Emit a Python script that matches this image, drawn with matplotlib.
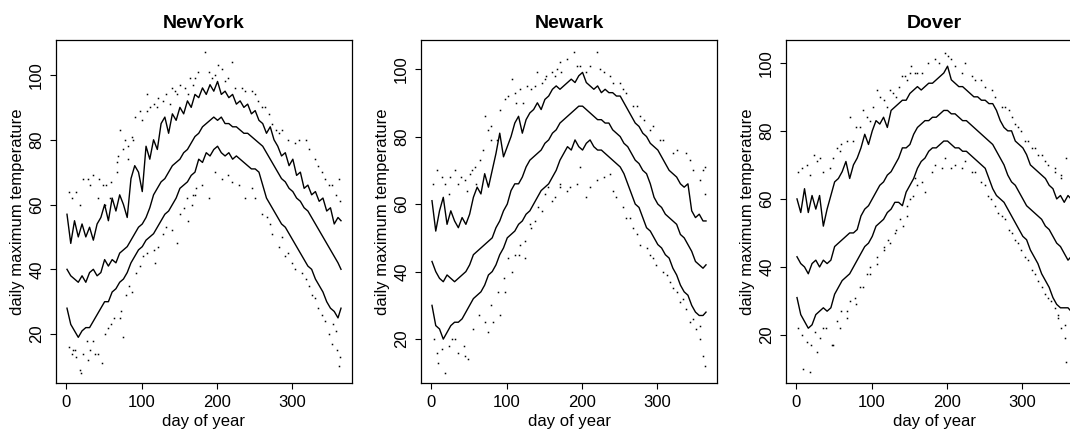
import numpy as np
import matplotlib.pyplot as plt

plt.rcParams['font.family'] = ['Liberation Sans', 'DejaVu Sans']

# sampled days (every 5 days, plus year end)
day = list(range(1, 362, 5)) + [365]

titles = ['NewYork', 'Newark', 'Dover']

# daily max temperature bands: upper, median, lower
ny_hi = [57, 48, 55, 50, 54, 50, 53, 49, 54, 56, 60, 55, 62, 58, 63, 60, 56, 68, 72, 70,
         64, 78, 74, 80, 77, 85, 87, 82, 88, 86, 90, 88, 92, 90, 94, 93, 96, 94, 97, 95,
         98, 94, 95, 93, 94, 91, 92, 90, 91, 88, 89, 86, 85, 82, 84, 80, 78, 75, 76, 72,
         74, 69, 70, 65, 66, 63, 64, 61, 62, 58, 59, 54, 56, 55]
ny_med = [40, 38, 37, 36, 38, 36, 39, 40, 38, 39, 43, 41, 43, 42, 45, 46, 47, 49, 51, 53,
          54, 56, 59, 63, 65, 67, 68, 70, 72, 73, 74, 76, 77, 79, 81, 82, 84, 85, 86, 87,
          86, 87, 85, 85, 84, 84, 83, 82, 82, 81, 80, 79, 78, 76, 74, 72, 70, 68, 67, 65,
          64, 62, 61, 59, 58, 56, 54, 52, 50, 48, 46, 44, 42, 40]
ny_lo = [28, 23, 21, 19, 21, 22, 22, 24, 26, 28, 30, 30, 33, 34, 36, 37, 39, 42, 44, 46,
         47, 49, 50, 51, 53, 55, 57, 58, 60, 62, 65, 66, 67, 69, 70, 74, 73, 76, 75, 77,
         78, 76, 75, 76, 74, 75, 74, 73, 72, 71, 71, 70, 66, 62, 60, 58, 56, 54, 53, 51,
         49, 47, 45, 43, 41, 40, 37, 35, 33, 30, 28, 27, 25, 28]

nw_hi = [61, 52, 58, 62, 54, 58, 55, 53, 56, 54, 57, 62, 65, 63, 69, 65, 70, 75, 81, 74,
         77, 80, 84, 86, 81, 85, 87, 88, 90, 88, 91, 92, 94, 95, 94, 95, 96, 97, 96, 98,
         99, 96, 95, 94, 95, 93, 94, 93, 93, 92, 92, 90, 88, 86, 84, 83, 81, 80, 78, 77,
         76, 74, 72, 70, 69, 68, 66, 65, 66, 58, 56, 57, 55, 55]
nw_med = [43, 40, 38, 37, 39, 38, 37, 38, 39, 40, 42, 45, 46, 47, 48, 49, 50, 53, 55, 58,
          60, 64, 66, 66, 68, 71, 73, 74, 75, 76, 78, 79, 81, 82, 84, 85, 86, 87, 88, 89,
          89, 88, 87, 86, 85, 85, 84, 84, 82, 81, 80, 78, 77, 75, 73, 72, 70, 69, 66, 62,
          60, 59, 57, 56, 55, 54, 51, 50, 48, 46, 43, 42, 41, 42]
nw_lo = [30, 24, 23, 20, 22, 24, 25, 25, 26, 28, 30, 32, 33, 34, 36, 39, 40, 42, 45, 47,
         50, 51, 52, 54, 55, 57, 58, 60, 62, 64, 65, 66, 68, 70, 73, 75, 77, 76, 79, 77,
         76, 78, 79, 77, 76, 76, 75, 74, 73, 72, 71, 69, 66, 63, 60, 59, 56, 53, 52, 50,
         48, 47, 45, 44, 41, 39, 36, 34, 33, 30, 28, 27, 27, 28]

dv_hi = [60, 56, 63, 56, 61, 57, 61, 52, 57, 61, 65, 66, 68, 71, 66, 70, 72, 75, 79, 76,
         80, 83, 82, 84, 81, 86, 87, 88, 89, 89, 91, 92, 93, 92, 93, 94, 94, 95, 96, 97,
         99, 95, 94, 93, 93, 92, 91, 90, 90, 89, 89, 88, 88, 86, 83, 81, 80, 80, 77, 76,
         75, 73, 70, 69, 68, 67, 66, 64, 63, 60, 61, 59, 61, 60]
dv_med = [43, 41, 40, 38, 41, 42, 40, 42, 41, 42, 46, 47, 48, 49, 50, 50, 51, 55, 57, 58,
          60, 62, 64, 65, 67, 68, 70, 72, 75, 75, 76, 79, 81, 82, 83, 83, 84, 84, 85, 86,
          86, 85, 85, 84, 83, 83, 82, 81, 80, 79, 78, 77, 76, 74, 72, 70, 67, 65, 64, 62,
          60, 58, 57, 56, 55, 54, 52, 51, 49, 47, 46, 44, 42, 43]
dv_lo = [31, 26, 24, 22, 23, 26, 27, 28, 27, 28, 32, 34, 36, 37, 38, 40, 42, 44, 46, 47,
         49, 52, 53, 54, 56, 57, 59, 59, 58, 62, 64, 66, 69, 71, 72, 74, 75, 75, 76, 77,
         77, 76, 75, 75, 74, 74, 73, 72, 71, 70, 69, 66, 63, 61, 60, 59, 57, 55, 53, 51,
         49, 48, 45, 43, 41, 38, 36, 34, 31, 29, 28, 28, 28, 27]

# individual days outside the band
ny_dot_day = [4, 7, 13, 22, 29, 36, 31, 18, 42, 49, 51, 58, 71, 60, 67, 69, 76, 82, 89, 87,
              98, 100, 107, 111, 116, 122, 129, 133, 140, 147, 151, 158, 164, 169, 171,
              4, 7, 11, 18, 20, 22, 27, 31, 36, 38, 42, 47, 55, 64, 73, 76, 80, 84, 93, 102,
              107, 118, 122, 129, 133, 147, 156, 162, 169, 173,
              184, 202, 220, 189, 193, 211, 224, 238, 251, 260, 269, 278, 282, 295, 304, 318,
              322, 335, 340, 349, 362, 358, 364,
              171, 189, 198, 215, 229, 247, 251, 267, 273, 282, 291, 300, 313, 322, 327, 335,
              344, 349, 353, 358, 360, 364, 362,
              144, 162, 138, 120, 107, 91, 78, 67, 82, 53, 44,
              160, 167, 151, 140, 116, 98, 87, 71, 60, 51, 29, 13, 9,
              175, 198, 207, 215, 233, 247, 255, 264, 273, 287, 309, 331, 344, 353,
              180, 207, 220, 238, 260, 271, 287, 295, 304, 318, 331, 340, 355]
ny_dot_val = [64, 62, 64, 68, 68, 69, 66, 60, 62, 66, 60, 62, 83, 67, 70, 75, 77, 78, 80, 81,
              89, 86, 94, 90, 91, 93, 92, 94, 96, 94, 97, 96, 99, 97, 99,
              16, 14, 15, 9, 8, 14, 18, 15, 18, 14, 14, 11, 22, 25, 27, 19, 32, 35, 39, 44,
              45, 42, 47, 51, 53, 48, 59, 55, 63, 65,
              107, 103, 104, 101, 99, 98, 96, 95, 94, 90, 88, 83, 82, 80, 79, 80,
              77, 72, 70, 66, 68, 63, 61,
              63, 62, 70, 69, 66, 65, 62, 56, 51, 47, 44, 42, 39, 35, 32, 28,
              24, 20, 17, 21, 15, 13, 10,
              95, 94, 91, 90, 89, 87, 80, 73, 74, 66, 68,
              62, 60, 57, 52, 46, 41, 33, 25, 23, 20, 12, 13, 15,
              101, 100, 102, 99, 96, 95, 92, 90, 85, 83, 80, 74, 68, 66,
              66, 68, 67, 62, 57, 54, 50, 45, 40, 37, 31, 26, 23]

nw_dot_day = [7, 3, 14, 18, 25, 32, 36, 40, 47, 52, 58, 65, 71, 76, 69, 80, 91, 98, 107, 111,
              118, 122, 133, 140, 147, 153, 160, 167, 171,
              4, 7, 9, 18, 14, 23, 32, 36, 43, 49, 56, 63, 76, 80, 89, 96, 102, 111, 118, 124,
              131, 138, 147, 155, 164, 171,
              189, 220, 198, 211, 229, 237, 251, 259, 273, 282, 295, 304, 321, 339, 348, 357,
              363, 363,
              171, 184, 198, 206, 220, 237, 246, 259, 268, 277, 290, 299, 313, 321, 330, 339,
              344, 352, 357, 361, 363,
              54, 60, 80, 87, 102, 113, 127, 138, 151, 164, 173, 23, 45,
              151, 160, 142, 133, 124, 116, 107, 98, 91, 82, 71, 45, 27,
              180, 193, 206, 224, 242, 255, 268, 277, 290, 308, 326, 344, 361,
              180, 193, 211, 229, 242, 255, 264, 273, 286, 295, 308, 317, 326, 335, 348, 357]
nw_dot_val = [70, 66, 68, 66, 68, 70, 66, 68, 64, 69, 71, 73, 86, 82, 76, 79, 88, 91, 97, 93,
              94, 90, 94, 99, 96, 98, 99, 100, 102,
              20, 16, 13, 10, 17, 18, 20, 16, 18, 14, 23, 27, 22, 30, 34, 38, 44, 45, 48, 44,
              54, 55, 58, 65, 62, 66,
              105, 105, 101, 101, 99, 98, 96, 93, 89, 85, 83, 79, 75, 75, 70, 67,
              71, 63,
              65, 65, 71, 62, 67, 69, 62, 56, 53, 48, 45, 42, 39, 35, 31, 29,
              25, 23, 20, 15, 12,
              70, 66, 83, 79, 92, 90, 95, 95, 97, 98, 99, 63, 67,
              63, 61, 59, 53, 49, 45, 40, 34, 27, 25, 25, 15, 20,
              103, 101, 99, 100, 96, 94, 89, 86, 82, 79, 76, 73, 70,
              64, 66, 65, 68, 64, 59, 56, 51, 47, 44, 40, 37, 34, 32, 26, 24]

dv_dot_day = [3, 7, 14, 23, 27, 32, 18, 36, 45, 54, 60, 71, 67, 80, 89, 98, 107, 116, 120, 129,
              133, 140, 147, 151, 158,
              3, 7, 9, 18, 14, 20, 25, 32, 36, 40, 47, 54, 60, 67, 71, 78, 85, 94, 98, 107,
              116, 122, 131, 138, 147, 151, 160,
              175, 184, 198, 202, 211, 224, 233, 246, 260, 273, 282, 290, 299, 308, 317, 326,
              335, 344, 352, 359,
              158, 171, 184, 198, 211, 224, 237, 251, 259, 268, 277, 282, 290, 299, 308, 317,
              326, 335, 344, 348, 352, 357, 359,
              49, 58, 76, 85, 94, 102, 111, 124, 136, 144, 153, 160,
              155, 147, 142, 133, 124, 116, 107, 98, 89, 80, 67, 58, 49, 27,
              167, 189, 206, 220, 237, 251, 264, 277, 286, 295, 304, 313, 321, 330, 344, 352,
              167, 180, 193, 206, 220, 233, 246, 255, 264, 273, 286, 295, 304, 313, 321, 330,
              339, 348, 357]
dv_dot_val = [68, 69, 70, 73, 71, 72, 67, 68, 69, 75, 76, 84, 77, 81, 86, 83, 92, 89, 87, 91,
              90, 96, 95, 97, 97,
              22, 20, 10, 9, 18, 17, 21, 19, 22, 22, 17, 24, 27, 25, 30, 31, 34, 38, 40, 43,
              45, 48, 50, 54, 55, 60, 64,
              100, 101, 103, 102, 99, 100, 96, 95, 92, 87, 86, 82, 80, 77, 75, 73,
              70, 68, 67, 72,
              66, 62, 70, 72, 70, 71, 68, 64, 60, 56, 54, 51, 48, 45, 42, 38,
              34, 31, 28, 25, 22, 19, 12,
              72, 74, 77, 81, 84, 87, 90, 92, 93, 96, 99, 97,
              61, 58, 52, 51, 47, 46, 41, 38, 34, 29, 27, 22, 17, 15,
              97, 100, 101, 97, 95, 93, 90, 87, 84, 81, 77, 75, 73, 71, 69, 66,
              65, 68, 69, 69, 69, 68, 65, 61, 58, 55, 50, 47, 43, 39, 36, 32,
              30, 26, 23]

series = [(ny_hi, ny_med, ny_lo, ny_dot_day, ny_dot_val),
          (nw_hi, nw_med, nw_lo, nw_dot_day, nw_dot_val),
          (dv_hi, dv_med, dv_lo, dv_dot_day, dv_dot_val)]
ylims = [(4.9, 110.8), (7.0, 108.6), (5.9, 106.7)]
lefts = [56, 421, 786]

fig = plt.figure(figsize=(10.7, 4.32), dpi=100)

for i in range(3):
    ax = fig.add_axes([lefts[i] / 1070, 49 / 432, 296 / 1070, 343 / 432])
    hi, med, lo, dd, dv = series[i]
    ax.plot(dd, dv, 's', ms=1.1, mew=0, color='black')
    for s in (hi, med, lo):
        ax.plot(day, s, color='black', lw=1.0)
    ax.set_xlim(-13.6, 379.6)
    ax.set_ylim(*ylims[i])
    ax.set_xticks([0, 100, 200, 300])
    ax.set_yticks([20, 40, 60, 80, 100])
    ax.tick_params(direction='out', length=4.5, width=0.8, pad=4, labelsize=12)
    for lab in ax.get_yticklabels():
        lab.set_rotation(90)
        lab.set_va('center')
    for sp in ax.spines.values():
        sp.set_linewidth(0.9)
    ax.set_title(titles[i], fontsize=14, fontweight='bold', pad=9)
    ax.set_xlabel('day of year', fontsize=12)
    ax.set_ylabel('daily maximum temperature', fontsize=12)
    ax.xaxis.set_label_coords(0.5, -0.09)
    ax.yaxis.set_label_coords(-0.105, 0.5)

fig.savefig('out.png', dpi=100)
